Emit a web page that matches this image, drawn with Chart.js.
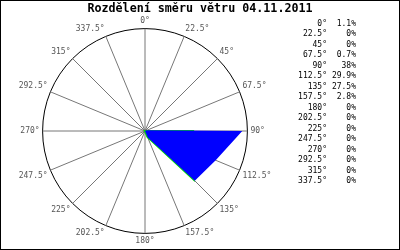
<!DOCTYPE html>
<html>
<head>
<meta charset="utf-8">
<script src="https://cdn.jsdelivr.net/npm/chart.js@4/dist/chart.umd.min.js"></script>
<style>
  html, body { margin: 0; padding: 0; background: #fff; }
  #wrap { width: 400px; height: 250px; position: relative; }
</style>
</head>
<body>
<div id="wrap"><canvas id="rose" width="400" height="250"></canvas></div>
<script>
// Wind direction categories (degrees)
const directions = ['0°', '22.5°', '45°', '67.5°', '90°', '112.5°', '135°', '157.5°',
                    '180°', '202.5°', '225°', '247.5°', '270°', '292.5°', '315°', '337.5°'];
// Share of each direction, percent
const shares = [1.1, 0, 0, 0.7, 38, 29.9, 27.5, 2.8, 0, 0, 0, 0, 0, 0, 0, 0];
// Green outline series (mostly hidden under the blue one)
const outline = [0, 0, 0, 0, 18.6, 16, 26.5, 2.5, 0, 0, 0, 0, 0, 0, 0, 0];
// Legend text for the right column
const shareLabels = ['1.1%', '0%', '0%', '0.7%', '38%', '29.9%', '27.5%', '2.8%',
                     '0%', '0%', '0%', '0%', '0%', '0%', '0%', '0%'];
const titleText = 'Rozdělení směru větru 04.11.2011';

// Title over the whole width, the direction/percent table and the frame
const sideTable = {
    id: 'sideTable',
    afterDraw(chart) {
        const ctx = chart.ctx;
        ctx.save();
        ctx.fillStyle = '#000';
        ctx.textBaseline = 'middle';

        ctx.font = 'bold 11.7px "DejaVu Sans Mono", monospace';
        ctx.textAlign = 'center';
        ctx.fillText(titleText, 200, 8.5);

        ctx.font = '8px "DejaVu Sans Mono", monospace';
        ctx.textAlign = 'right';
        directions.forEach((d, i) => {
            const y = 23.5 + i * 10.5;
            ctx.fillText(d, 327, y);
            ctx.fillText(shareLabels[i], 356, y);
        });

        ctx.strokeStyle = '#000';
        ctx.lineWidth = 1;
        ctx.strokeRect(0.5, 0.5, 399, 249);
        ctx.restore();
    }
};

new Chart(document.getElementById('rose'), {
    type: 'radar',
    data: {
        labels: directions,
        datasets: [{
            data: shares,
            backgroundColor: '#0000ff',
            borderColor: '#0000ff',
            borderWidth: 0,
            pointRadius: 0,
            fill: true
        }, {
            data: outline,
            borderColor: '#00e000',
            borderWidth: 2,
            pointRadius: 0,
            fill: false
        }]
    },
    options: {
        responsive: false,
        animation: false,
        layout: { padding: { left: 0, right: 110, top: 16, bottom: 3 } },
        plugins: {
            legend: { display: false },
            tooltip: { enabled: false },
            title: { display: false }
        },
        scales: {
            r: {
                min: 0,
                max: 40,
                ticks: { display: false, stepSize: 40 },
                grid: { circular: true, color: '#000', lineWidth: 1 },
                angleLines: { color: '#777', lineWidth: 1 },
                pointLabels: {
                    color: '#555',
                    padding: 3,
                    font: { family: 'DejaVu Sans Mono', size: 8 }
                }
            }
        }
    },
    plugins: [sideTable]
});
</script>
</body>
</html>
